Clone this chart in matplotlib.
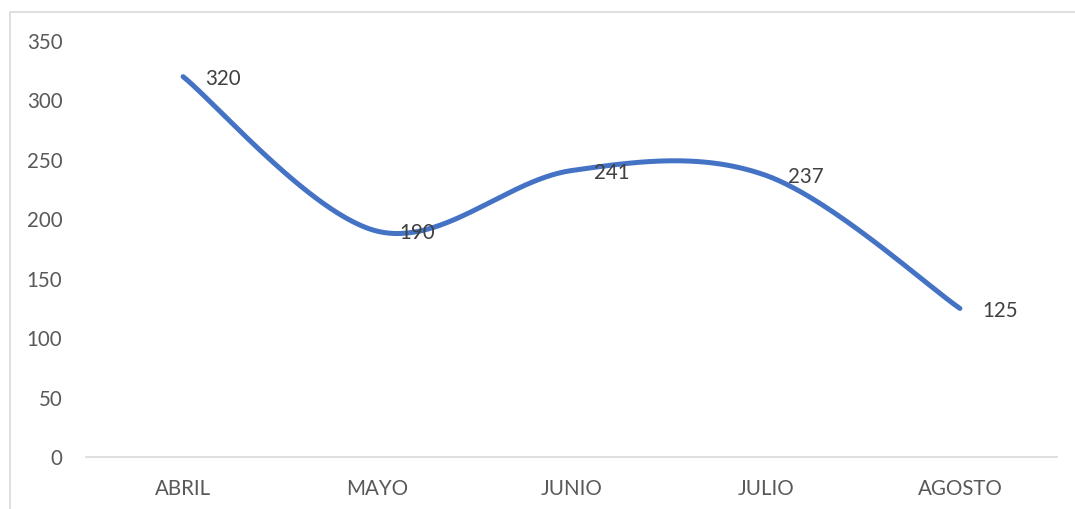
import numpy as np
import matplotlib
matplotlib.use("Agg")
import matplotlib.pyplot as plt
from matplotlib.patches import Rectangle

categories = ["ABRIL", "MAYO", "JUNIO", "JULIO", "AGOSTO"]
values = [320, 190, 241, 237, 125]
yticks = [0, 50, 100, 150, 200, 250, 300, 350]

plt.rcParams['font.family'] = ['Lato', 'DejaVu Sans']
TXT = '#595959'
LINE = '#4472C4'

fig = plt.figure(figsize=(10.75, 5.09), dpi=100)
fig.patch.set_facecolor('white')
ax = fig.add_axes([86/1075, 52/509, (1057-86)/1075, (457-41)/509])

# smooth curve (Catmull-Rom, like Excel smoothed line)
x = np.arange(len(values), dtype=float)
y = np.array(values, dtype=float)
px = np.concatenate([[x[0]], x, [x[-1]]])
py = np.concatenate([[y[0]], y, [y[-1]]])
xs, ys = [], []
t = np.linspace(0, 1, 60)
for i in range(1, len(px) - 2):
    p0, p1, p2, p3 = [np.array([px[j], py[j]]) for j in (i - 1, i, i + 1, i + 2)]
    c1 = p1 + (p2 - p0) / 6
    c2 = p2 - (p3 - p1) / 6
    b = ((1 - t) ** 3)[:, None] * p1 + (3 * (1 - t) ** 2 * t)[:, None] * c1 + \
        (3 * (1 - t) * t ** 2)[:, None] * c2 + (t ** 3)[:, None] * p2
    xs.extend(b[:, 0]); ys.extend(b[:, 1])
ax.plot(xs, ys, color=LINE, lw=3.6, solid_capstyle='round')

for xi, v in zip(x, values):
    ax.annotate(str(v), (xi, v), xytext=(16, -1.5), textcoords='offset points',
                ha='left', va='center', fontsize=14.8, color='#404040')

ax.set_xlim(-0.5, len(values) - 0.5)
ax.set_ylim(0, 350)
ax.set_yticks(yticks)
ax.set_xticks(x)
ax.set_xticklabels(categories)
ax.tick_params(axis='both', length=0, labelsize=14.8, labelcolor=TXT)
ax.tick_params(axis='y', pad=17)
ax.tick_params(axis='x', pad=16)
for s in ['top', 'right', 'left']:
    ax.spines[s].set_visible(False)
ax.spines['bottom'].set_color('#D9D9D9')
ax.spines['bottom'].set_linewidth(1.2)

fig.patches.append(Rectangle((10/1075, -0.2), 1.2, 0.2 + 1 - 12/509, transform=fig.transFigure,
                             fill=False, edgecolor='#D9D9D9', lw=1.2))

fig.savefig('out.png', dpi=100)
